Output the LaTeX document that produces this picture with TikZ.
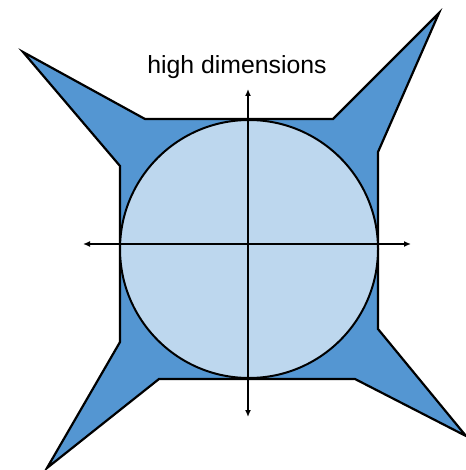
\documentclass[tikz,border=0pt]{standalone}
\usepackage{fontspec}
\setmainfont{Liberation Sans}
\usetikzlibrary{arrows.meta}
\definecolor{spikeblue}{RGB}{84,150,210}
\definecolor{ballblue}{RGB}{189,215,238}
\begin{document}
\begin{tikzpicture}[x=1pt, y=-1pt,
    axis/.style={{Latex[length=7pt,width=6pt]}-{Latex[length=7pt,width=6pt]}, line width=1.6pt}]
        \useasboundingbox (0,0) rectangle (465,470);

        % Spiky cube
        \draw[fill=spikeblue, draw=black, line width=2.2pt] (23,52) -- (145,119) -- (333,119) -- (439,13) -- (378,152) -- (378,329) -- (466,436) -- (355,379) -- (159,379) -- (47,468) -- (120,342) -- (120,166) -- cycle;

        % Inscribed ball
        \draw[fill=ballblue, draw=black, line width=2pt] (249,249) circle (129pt);

        % Axes
        \coordinate (west) at (83,244);
        \coordinate (east) at (411,244);
        \coordinate (north) at (248,89);
        \coordinate (south) at (248,417);
        \draw[axis] (west) -- (east);
        \draw[axis] (south) -- (north);

        \node[font=\fontsize{24.8}{30}\selectfont] (title) at (237,67) {high dimensions};
    \end{tikzpicture}
\end{document}
